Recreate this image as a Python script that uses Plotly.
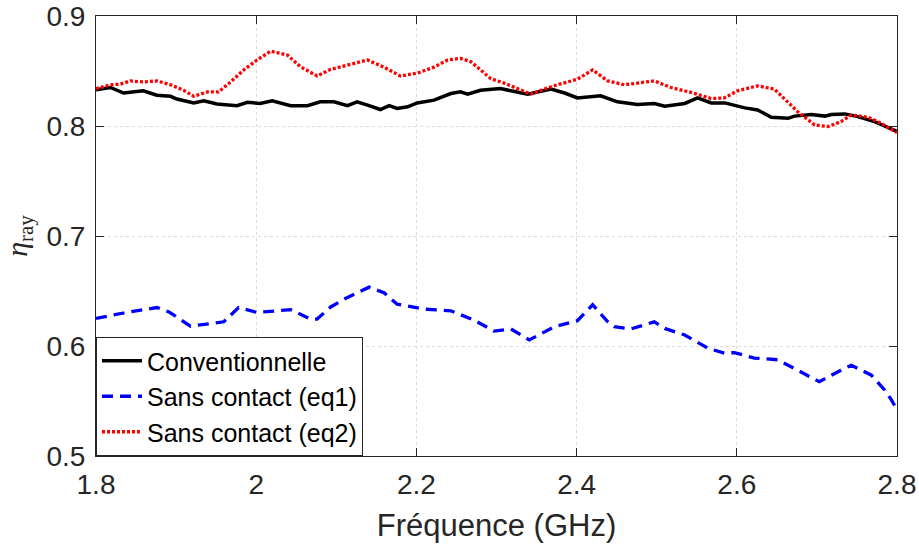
import plotly.graph_objects as go

# ---- data ----
conv_f = [1.8, 1.818, 1.8345, 1.859, 1.876, 1.893, 1.901, 1.922, 1.9345, 1.951, 1.976, 1.989,
          2.005, 2.02, 2.043, 2.064, 2.08, 2.097, 2.114, 2.126, 2.139, 2.155, 2.166, 2.176,
          2.189, 2.201, 2.222, 2.243, 2.255, 2.264, 2.28, 2.305, 2.318, 2.339, 2.368, 2.385,
          2.401, 2.43, 2.451, 2.476, 2.497, 2.51, 2.535, 2.551, 2.568, 2.585, 2.61, 2.626,
          2.643, 2.664, 2.672, 2.693, 2.71, 2.718, 2.735, 2.751, 2.772, 2.789, 2.8]
conv_eta = [0.833, 0.835, 0.830, 0.832, 0.828, 0.827, 0.8245, 0.821, 0.823, 0.820, 0.8185, 0.8215,
            0.8205, 0.823, 0.8185, 0.8185, 0.822, 0.822, 0.8185, 0.822, 0.819, 0.815, 0.8185, 0.816,
            0.8175, 0.821, 0.8235, 0.8295, 0.831, 0.829, 0.8325, 0.834, 0.832, 0.829, 0.8335, 0.830,
            0.8255, 0.8275, 0.822, 0.8195, 0.8205, 0.818, 0.8205, 0.8255, 0.821, 0.821, 0.8165, 0.8145,
            0.808, 0.807, 0.809, 0.8105, 0.809, 0.8105, 0.811, 0.8085, 0.804, 0.798, 0.795]

eq1_f = [1.8, 1.8345, 1.876, 1.891, 1.918, 1.9595, 1.978, 2.001, 2.043, 2.068, 2.076, 2.093,
         2.1095, 2.141, 2.1595, 2.176, 2.2095, 2.243, 2.272, 2.297, 2.318, 2.341, 2.372, 2.401,
         2.42, 2.439, 2.447, 2.468, 2.497, 2.51, 2.535, 2.564, 2.5845, 2.597, 2.622, 2.651,
         2.676, 2.703, 2.73, 2.743, 2.768, 2.7845, 2.793, 2.8]
eq1_eta = [0.625, 0.630, 0.635, 0.631, 0.618, 0.622, 0.635, 0.6305, 0.633, 0.6245, 0.6245, 0.6355,
           0.6425, 0.6535, 0.6485, 0.638, 0.6335, 0.632, 0.6235, 0.6135, 0.6155, 0.6055, 0.6175, 0.623,
           0.6375, 0.622, 0.6175, 0.6155, 0.622, 0.616, 0.610, 0.598, 0.5935, 0.594, 0.589, 0.5875,
           0.578, 0.5675, 0.578, 0.5825, 0.5735, 0.560, 0.551, 0.542]

eq2_f = [1.8, 1.818, 1.83, 1.843, 1.8595, 1.876, 1.893, 1.9095, 1.922, 1.939, 1.953, 1.968,
         1.9845, 2.001, 2.018, 2.039, 2.055, 2.076, 2.093, 2.118, 2.139, 2.1595, 2.18, 2.201,
         2.222, 2.239, 2.255, 2.268, 2.293, 2.3095, 2.326, 2.343, 2.3595, 2.376, 2.401, 2.42,
         2.439, 2.4595, 2.476, 2.497, 2.518, 2.543, 2.568, 2.5845, 2.601, 2.626, 2.647, 2.6595,
         2.676, 2.697, 2.714, 2.73, 2.743, 2.764, 2.78, 2.8]
eq2_eta = [0.834, 0.8375, 0.838, 0.841, 0.840, 0.841, 0.8375, 0.8325, 0.827, 0.831, 0.831, 0.840,
           0.851, 0.860, 0.868, 0.8645, 0.854, 0.8455, 0.8515, 0.8565, 0.860, 0.8535, 0.8455, 0.848,
           0.8535, 0.860, 0.8615, 0.8585, 0.843, 0.839, 0.834, 0.829, 0.8335, 0.8375, 0.8425, 0.851,
           0.841, 0.8375, 0.839, 0.841, 0.835, 0.8305, 0.825, 0.8255, 0.832, 0.8365, 0.8335, 0.825,
           0.813, 0.801, 0.7995, 0.804, 0.810, 0.808, 0.8025, 0.794]

x_ticks = [1.8, 2.0, 2.2, 2.4, 2.6, 2.8]
x_tick_labels = ["1.8", "2", "2.2", "2.4", "2.6", "2.8"]
y_ticks = [0.5, 0.6, 0.7, 0.8, 0.9]
y_tick_labels = ["0.5", "0.6", "0.7", "0.8", "0.9"]

names = ["Conventionnelle", "Sans contact (eq1)", "Sans contact (eq2)"]

AX = "#262626"
fig = go.Figure()
fig.add_trace(go.Scatter(x=conv_f, y=conv_eta, mode="lines", name=names[0],
                         line=dict(color="#000000", width=3.5)))
fig.add_trace(go.Scatter(x=eq1_f, y=eq1_eta, mode="lines", name=names[1],
                         line=dict(color="#0000ff", width=3.3, dash="11px,7px")))
fig.add_trace(go.Scatter(x=eq2_f, y=eq2_eta, mode="lines", name=names[2],
                         line=dict(color="#ff0000", width=3.3, dash="3px,2px")))

axis_common = dict(showline=True, linecolor=AX, linewidth=1, mirror="ticks",
                   ticks="inside", ticklen=8, tickcolor=AX, tickwidth=1,
                   showgrid=True, gridcolor="#dcdcdc", griddash="dot", gridwidth=1,
                   zeroline=False, tickfont=dict(family="Liberation Sans", size=28, color=AX))

fig.update_xaxes(range=[1.8, 2.8], tickvals=x_ticks, ticktext=x_tick_labels,
                 ticklabelstandoff=3,
                 title=dict(text="Fréquence (GHz)", standoff=15,
                            font=dict(family="Liberation Sans", size=31, color=AX)),
                 **axis_common)
fig.update_yaxes(range=[0.5, 0.9], tickvals=y_ticks, ticktext=y_tick_labels,
                 ticklabelstandoff=4,
                 title=dict(text="<i>η</i><sub>ray</sub>", standoff=12,
                            font=dict(family="Liberation Serif", size=30, color=AX)),
                 **axis_common)

fig.update_layout(
    width=919, height=548,
    margin=dict(l=96, r=22, t=16, b=92, autoexpand=False),
    plot_bgcolor="white", paper_bgcolor="white",
    legend=dict(x=0, y=0, xanchor="left", yanchor="bottom",
                bgcolor="white", bordercolor=AX, borderwidth=1,
                font=dict(family="Liberation Sans", size=25, color="#000000"),
                tracegroupgap=0, itemwidth=40),
)
fig.write_html("out.html", config={"displayModeBar": False},
               post_script="document.body.style.margin='0';document.body.style.overflow='hidden';")
